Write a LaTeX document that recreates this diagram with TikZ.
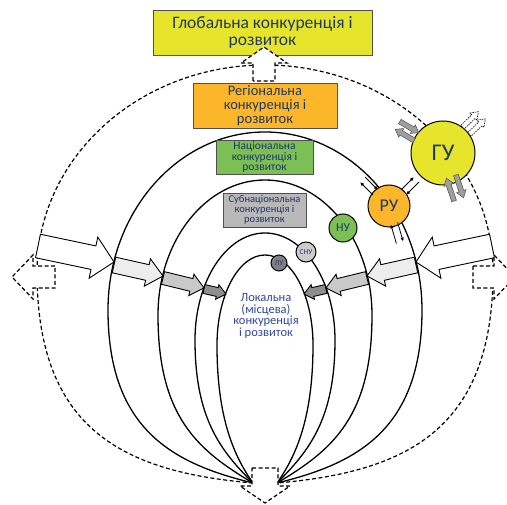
\documentclass[tikz,border=0pt]{standalone}
\usepackage{fontspec}
\setmainfont{Carlito}
\usetikzlibrary{calc,arrows.meta}
\definecolor{cyel}{HTML}{E6E52C}
\definecolor{corg}{HTML}{FBB62A}
\definecolor{cgrn}{HTML}{7CBF55}
\definecolor{cgry}{HTML}{B9B9B9}
\definecolor{navy}{HTML}{1F3864}
\definecolor{lblue}{HTML}{2E4A9A}
\definecolor{boxline}{HTML}{505050}
\definecolor{cla}{HTML}{EDEDED}
\definecolor{clb}{HTML}{C9C9C9}
\definecolor{clc}{HTML}{8E8E8E}
\newcommand\blockarr[6]{%
  \coordinate (baN) at ($#3!#6pt!#2$);
  \draw[#1] ($#2!#4pt!90:#3$) -- ($(baN)!#4pt!90:#3$) -- ($(baN)!#5pt!90:#3$) -- #3 -- ($(baN)!#5pt!-90:#3$) -- ($(baN)!#4pt!-90:#3$) -- ($#2!#4pt!-90:#3$) -- cycle;
}
\begin{document}
\begin{tikzpicture}[x=1pt,y=-1pt,
  ring/.style={line width=1.3pt},
  dring/.style={line width=1.2pt, dash pattern=on 4pt off 2.5pt},
  blk/.style={draw=black, line width=0.9pt},
  darr/.style={draw=black, fill=white, line width=1.2pt, dash pattern=on 4pt off 2.5pt},
  lbl/.style={draw=boxline, line width=0.6pt, align=center, inner sep=0pt, text=navy},
  circ/.style={circle, draw=black, line width=1pt, inner sep=0pt, text=navy},
  gsm/.style={draw=boxline, fill=gray!75, line width=0.5pt},
  dsm/.style={draw=black, fill=white, line width=0.6pt, dash pattern=on 1.5pt off 1pt},
  thin/.style={draw=black, line width=0.8pt, -{Latex[length=4pt,width=3.5pt]}}]
\useasboundingbox (0,0) rectangle (507,505);
% rings
\draw[dring] (253,483) .. controls (124,472) and (37,430) .. (37,272) .. controls (37,158) and (139,65) .. (265,65) .. controls (391,65) and (493,158) .. (493,272) .. controls (493,430) and (406,472) .. (277,483);
\draw[ring] (253,483) .. controls (175,464) and (108,431) .. (108,310) .. controls (108,212) and (178,132) .. (265,132) .. controls (352,132) and (422,212) .. (422,310) .. controls (422,431) and (355,464) .. (277,483);
\draw[ring] (253,483) .. controls (197,450) and (158,416) .. (158,315) .. controls (158,240.5) and (206,180) .. (265,180) .. controls (324,180) and (372,240.5) .. (372,315) .. controls (372,416) and (333,450) .. (277,483);
\draw[ring] (253,483) .. controls (221,451) and (195,419) .. (195,340) .. controls (195,281) and (226.4,233) .. (265,233) .. controls (303.6,233) and (335,281) .. (335,340) .. controls (335,419) and (309,451) .. (277,483);
\draw[ring] (253,483) .. controls (232,453.5) and (217,414) .. (217,345) .. controls (217,295.3) and (238.5,255) .. (265,255) .. controls (291.5,255) and (313,295.3) .. (313,345) .. controls (313,414) and (298,453.5) .. (277,483);
% boxes
\node[lbl, fill=cyel, minimum width=219pt, minimum height=45pt, font=\fontsize{17.5}{17}\selectfont] (glob) at (262.5,32.5) {Глобальна конкуренція і\\розвиток};
\node[lbl, fill=corg, minimum width=144pt, minimum height=45pt, font=\fontsize{14.5}{14}\selectfont] (reg) at (265,105.5) {Регіональна\\конкуренція і\\розвиток};
\node[lbl, fill=cgrn, minimum width=97pt, minimum height=34pt, font=\fontsize{11.5}{10.8}\selectfont] (nat) at (264.5,157) {Національна\\конкуренція і\\розвиток};
\node[lbl, fill=cgry, minimum width=83pt, minimum height=34pt, font=\fontsize{10.5}{10.2}\selectfont] (sub) at (264.5,210) {Субнаціональна\\конкуренція і\\розвиток};
\node[align=center, inner sep=0pt, text=lblue, font=\fontsize{12.5}{11.5}\selectfont] (loc) at (266,316) {Локальна\\(місцева)\\конкуренція\\і розвиток};
% side block arrows
\blockarr{blk, fill=white}{(38,246)}{(114,262)}{12}{21}{21}
\blockarr{blk, fill=cla}{(114,265)}{(163,276)}{8}{14}{16}
\blockarr{blk, fill=clb}{(163,278)}{(204,288)}{6.5}{11}{13}
\blockarr{blk, fill=clc}{(204,289)}{(226,294)}{4.5}{7.5}{9}
\blockarr{blk, fill=white}{(492,246)}{(416,262)}{12}{21}{21}
\blockarr{blk, fill=cla}{(416,265)}{(367,276)}{8}{14}{16}
\blockarr{blk, fill=clb}{(367,278)}{(326,288)}{6.5}{11}{13}
\blockarr{blk, fill=clc}{(326,289)}{(304,294)}{4.5}{7.5}{9}
% dashed outward arrows
\draw[darr] (253,81) -- (253,63) -- (241,63) -- (264,47) -- (287,63) -- (275,63) -- (275,81) -- cycle;
\draw[darr] (55,266) -- (33,266) -- (33,255) -- (12,277) -- (33,299) -- (33,288) -- (55,288) -- cycle;
\draw[darr] (473,266) -- (494,266) -- (494,255) -- (515,277) -- (494,299) -- (494,288) -- (473,288) -- cycle;
\draw[darr] (252,468) -- (278,468) -- (278,486) -- (290,486) -- (265,503) -- (240,486) -- (252,486) -- cycle;
% circles
\node[circ, fill=cyel, minimum size=64pt, font=\fontsize{24}{24}\selectfont] (gu) at (443,153) {ГУ};
\node[circ, fill=corg, minimum size=42pt, font=\fontsize{18}{18}\selectfont] (ru) at (389,206) {РУ};
\node[circ, fill=cgrn, minimum size=28pt, font=\fontsize{12}{12}\selectfont] (nu) at (343,228) {НУ};
\node[circ, fill=gray!40, minimum size=20pt, font=\fontsize{7.5}{7.5}\selectfont] (snu) at (306,252) {СНУ};
\node[circ, fill=gray, minimum size=16pt, font=\fontsize{7.5}{7.5}\selectfont] (lu) at (279,263) {ЛУ};
% small arrows around GU
\blockarr{gsm}{(399.8,121.5)}{(418.8,132.7)}{2.5}{5}{7}
\blockarr{gsm}{(414.2,140.5)}{(395.2,129.3)}{2.5}{5}{7}
\blockarr{gsm}{(454.1,201)}{(446.4,178.2)}{2.5}{5}{7}
\blockarr{gsm}{(455.9,175)}{(463.6,197.8)}{2.5}{5}{7}
\blockarr{dsm}{(469.6,134.3)}{(485.4,118.9)}{2.5}{5}{7}
\blockarr{dsm}{(462.6,127.1)}{(478.4,111.7)}{2.5}{5}{7}
% thin arrows around RU
\coordinate (r1a) at (365.1,177.1); \coordinate (r1b) at (377.9,189.9);
\coordinate (r2a) at (372.9,194.9); \coordinate (r2b) at (360.1,182.1);
\coordinate (r3a) at (418.9,182.1); \coordinate (r3b) at (406.1,194.9);
\coordinate (r4a) at (401.1,189.9); \coordinate (r4b) at (413.9,177.1);
\coordinate (r5a) at (396.4,243.6); \coordinate (r5b) at (390.8,224.4);
\coordinate (r6a) at (397.6,222.4); \coordinate (r6b) at (403.2,241.6);
\draw[thin] (r1a) -- (r1b);
\draw[thin] (r2a) -- (r2b);
\draw[thin] (r3a) -- (r3b);
\draw[thin] (r4a) -- (r4b);
\draw[thin] (r5a) -- (r5b);
\draw[thin] (r6a) -- (r6b);
\end{tikzpicture}
\end{document}
